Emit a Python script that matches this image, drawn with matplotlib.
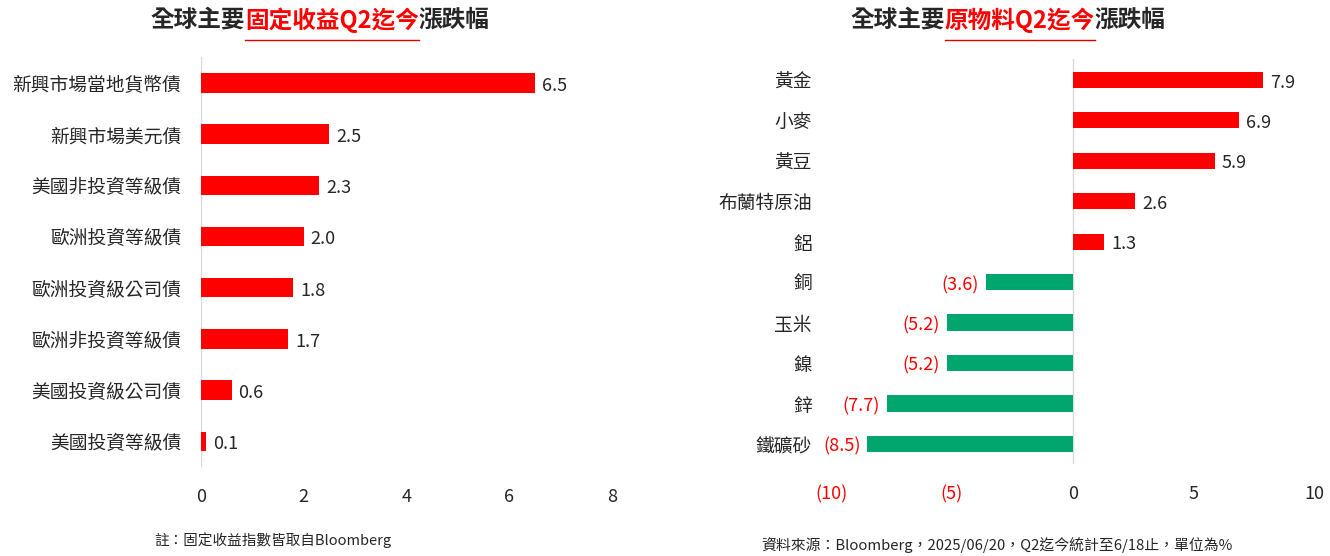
import matplotlib
matplotlib.use("Agg")
import matplotlib.pyplot as plt
from matplotlib.lines import Line2D

plt.rcParams['font.family'] = ['Noto Sans CJK TC', 'DejaVu Sans']

RED = '#FF0000'
GREEN = '#00A66E'
DARK = '#262626'

# left panel data: fixed income
bond_names = ["新興市場當地貨幣債", "新興市場美元債", "美國非投資等級債", "歐洲投資等級債",
              "歐洲投資級公司債", "歐洲非投資等級債", "美國投資級公司債", "美國投資等級債"]
bond_values = [6.5, 2.5, 2.3, 2.0, 1.8, 1.7, 0.6, 0.1]
bond_ticks = [0, 2, 4, 6, 8]

# right panel data: commodities
comm_names = ["黃金", "小麥", "黃豆", "布蘭特原油", "鋁", "銅", "玉米", "鎳", "鋅", "鐵礦砂"]
comm_values = [7.9, 6.9, 5.9, 2.6, 1.3, -3.6, -5.2, -5.2, -7.7, -8.5]
comm_ticks = [-10, -5, 0, 5, 10]


def fmt(v):
    return f"({abs(v):.1f})" if v < 0 else f"{v:.1f}"


def style_axis(ax):
    for s in ax.spines.values():
        s.set_visible(False)
    ax.tick_params(axis='both', length=0)
    ax.tick_params(axis='x', pad=15, labelsize=13, labelcolor=DARK)
    ax.tick_params(axis='y', pad=14, labelsize=13.5, labelcolor=DARK)
    ax.axvline(0, color='#D9D9D9', lw=1, zorder=0)


fig = plt.figure(figsize=(13.3, 5.56), dpi=100)

# left
ax1 = fig.add_axes([0.151, 0.160, 0.309, 0.737])
y = list(range(len(bond_names)))
ax1.barh(y, bond_values, height=0.38, color=RED, zorder=2)
ax1.set_ylim(len(bond_names) - 0.5, -0.5)
ax1.set_xlim(0, 8)
ax1.set_yticks(y)
ax1.set_yticklabels(bond_names)
ax1.set_xticks(bond_ticks)
ax1.set_xticklabels([str(t) for t in bond_ticks])
style_axis(ax1)
for yi, v in zip(y, bond_values):
    ax1.annotate(fmt(v), (v, yi), xytext=(5, -2), textcoords='offset points',
                 ha='left', va='center', fontsize=13, color=DARK)

# right
ax2 = fig.add_axes([0.625, 0.165, 0.363, 0.728])
y2 = list(range(len(comm_names)))
colors = [RED if v >= 0 else GREEN for v in comm_values]
ax2.barh(y2, comm_values, height=0.4, color=colors, zorder=2)
ax2.set_ylim(len(comm_names) - 0.5, -0.5)
ax2.set_xlim(-10, 10)
ax2.set_yticks(y2)
ax2.set_yticklabels(comm_names)
ax2.set_xticks(comm_ticks)
ax2.set_xticklabels([fmt(t).replace('.0', '') for t in comm_ticks])
style_axis(ax2)
for t, lbl in zip(comm_ticks, ax2.get_xticklabels()):
    if t < 0:
        lbl.set_color(RED)
for yi, v in zip(y2, comm_values):
    if v >= 0:
        ax2.annotate(fmt(v), (v, yi), xytext=(5, -2), textcoords='offset points',
                     ha='left', va='center', fontsize=13, color=DARK)
    else:
        ax2.annotate(fmt(v), (v, yi), xytext=(-5, -2), textcoords='offset points',
                     ha='right', va='center', fontsize=13, color=RED)


def title(cx, yfig, parts):
    texts = []
    for s, c in parts:
        texts.append(fig.text(0, yfig, s, color=c, fontsize=17, fontweight='bold',
                              ha='left', va='center'))
    fig.canvas.draw()
    r = fig.canvas.get_renderer()
    widths = [t.get_window_extent(r).width / fig.bbox.width for t in texts]
    x = cx - sum(widths) / 2
    for t, w in zip(texts, widths):
        t.set_x(x)
        x += w
    fig.canvas.draw()
    red = texts[1].get_window_extent(r)
    x0 = red.x0 / fig.bbox.width
    x1 = red.x1 / fig.bbox.width
    yl = 1 - 40 / 556
    fig.add_artist(Line2D([x0, x1], [yl, yl], color='#E00000', lw=1))


title(320 / 1330, 1 - 20 / 556, [("全球主要", DARK), ("固定收益Q2迄今", RED), ("漲跌幅", DARK)])
title(1008 / 1330, 1 - 20 / 556, [("全球主要", DARK), ("原物料Q2迄今", RED), ("漲跌幅", DARK)])

fig.text(273 / 1330, 1 - 540 / 556, "註：固定收益指數皆取自Bloomberg", ha='center', va='center',
         fontsize=10.5, color=DARK)
fig.text(997 / 1330, 1 - 545 / 556, "資料來源：Bloomberg，2025/06/20，Q2迄今統計至6/18止，單位為%",
         ha='center', va='center', fontsize=10.7, color=DARK)

fig.savefig("out.png", dpi=100, facecolor='white')
